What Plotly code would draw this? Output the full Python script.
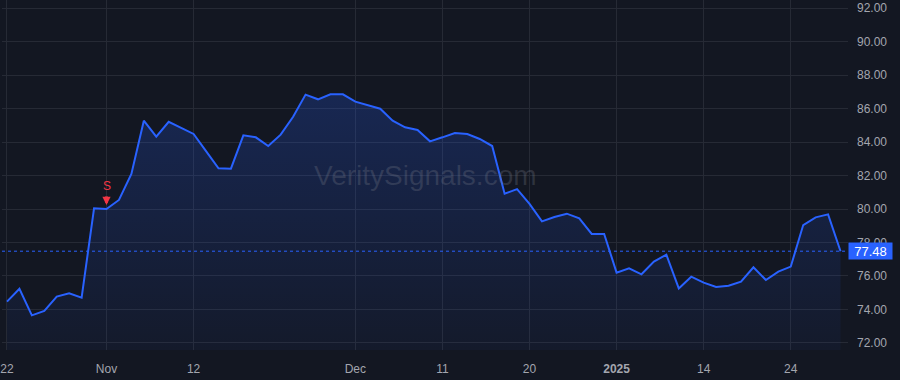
import plotly.graph_objects as go

dates = [
    "2024-10-22", "2024-10-23", "2024-10-24", "2024-10-25", "2024-10-28", "2024-10-29", "2024-10-30", "2024-10-31",
    "2024-11-01", "2024-11-04", "2024-11-05", "2024-11-06", "2024-11-07", "2024-11-08", "2024-11-11", "2024-11-12",
    "2024-11-13", "2024-11-14", "2024-11-15", "2024-11-18", "2024-11-19", "2024-11-20", "2024-11-21", "2024-11-22",
    "2024-11-25", "2024-11-26", "2024-11-27", "2024-11-29",
    "2024-12-02", "2024-12-03", "2024-12-04", "2024-12-05", "2024-12-06", "2024-12-09", "2024-12-10", "2024-12-11",
    "2024-12-12", "2024-12-13", "2024-12-16", "2024-12-17", "2024-12-18", "2024-12-19", "2024-12-20", "2024-12-23",
    "2024-12-24", "2024-12-26", "2024-12-27", "2024-12-30", "2024-12-31",
    "2025-01-02", "2025-01-03", "2025-01-06", "2025-01-07", "2025-01-08", "2025-01-10", "2025-01-13", "2025-01-14",
    "2025-01-15", "2025-01-16", "2025-01-17", "2025-01-21", "2025-01-22", "2025-01-23", "2025-01-24", "2025-01-27",
    "2025-01-28", "2025-01-29", "2025-01-30",
]

prices = [
    74.47, 75.24, 73.65, 73.91, 74.77, 74.97, 74.71, 80.04,
    80.00, 80.54, 82.09, 85.27, 84.32, 85.21, 84.84, 84.48,
    83.46, 82.43, 82.41, 84.40, 84.28, 83.76, 84.44, 85.51,
    86.83, 86.55, 86.85, 86.85,
    86.41, 86.21, 85.99, 85.27, 84.88, 84.72, 84.04, 84.28,
    84.54, 84.48, 84.18, 83.76, 80.91, 81.19, 80.30, 79.26,
    79.52, 79.72, 79.44, 78.51, 78.51,
    76.20, 76.46, 76.10, 76.86, 77.27, 75.26, 75.96, 75.60,
    75.34, 75.42, 75.66, 76.52, 75.76, 76.26, 76.56, 79.04,
    79.50, 79.68, 77.48,
]

tick_dates = ["2024-10-22", "2024-11-01", "2024-11-12", "2024-12-02", "2024-12-11",
              "2024-12-20", "2025-01-02", "2025-01-14", "2025-01-24"]
tick_labels = ["22", "Nov", "12", "Dec", "11", "20", "<b>2025</b>", "14", "24"]

y_ticks = [72, 74, 76, 78, 80, 82, 84, 86, 88, 90, 92]
y_tick_labels = [f"{v:.2f}" for v in y_ticks]

signal_date = "2024-11-01"
signal_label = "S"

BG = "#131722"
GRID = "#262a35"
TXT = "#a3a6af"
BLUE = "#2962FF"
RED = "#F23645"
FONT = "Liberation Sans, Arial, sans-serif"

fig = go.Figure()
fig.add_trace(go.Scatter(
    x=dates, y=prices, mode="lines",
    line=dict(color=BLUE, width=2),
    fill="tozeroy",
    fillgradient=dict(type="vertical", start=71.5, stop=87.0,
                      colorscale=[[0, "rgba(41,98,255,0.04)"], [1, "rgba(41,98,255,0.22)"]]),
    hoverinfo="skip", showlegend=False,
))

last = prices[-1]
fig.add_hline(y=last, line=dict(color=BLUE, width=1, dash="dot"))

fig.add_annotation(xref="paper", x=1.0, y=last, xanchor="left", yanchor="middle",
                   text=f"{last:.2f}", showarrow=False, bgcolor=BLUE,
                   font=dict(color="white", size=13, family=FONT),
                   width=41, height=14, borderpad=1, align="center")

si = dates.index(signal_date)
fig.add_annotation(x=signal_date, y=prices[si], text="", showarrow=True,
                   ax=0, ay=-10, arrowhead=2, arrowsize=0.55, arrowwidth=3,
                   arrowcolor=RED, yshift=4, standoff=0)
fig.add_annotation(x=signal_date, y=prices[si], text=signal_label, showarrow=False,
                   yshift=23, font=dict(color=RED, size=12, family=FONT))

fig.add_annotation(xref="x domain", yref="y domain", x=0.5, y=0.5,
                   text="VeritySignals.com", showarrow=False,
                   font=dict(color="rgba(120,124,138,0.28)", size=28, family=FONT))

fig.update_layout(
    width=900, height=380,
    margin=dict(l=0, r=52, t=0, b=30),
    paper_bgcolor=BG, plot_bgcolor=BG,
    font=dict(family=FONT, color=TXT, size=12),
    showlegend=False,
)
fig.update_xaxes(
    type="category", tickmode="array", tickvals=tick_dates, ticktext=tick_labels,
    range=[-0.4, len(dates) - 1 + 0.6],
    showgrid=True, gridcolor=GRID, gridwidth=1, zeroline=False, showline=False,
    ticks="", ticklabelstandoff=10, tickfont=dict(size=12, color=TXT),
)
fig.update_yaxes(
    side="right", range=[71.58, 92.48], tickmode="array", tickvals=y_ticks, ticktext=y_tick_labels,
    showgrid=True, gridcolor=GRID, gridwidth=1, zeroline=False, showline=False,
    ticks="", ticklabelstandoff=8, tickfont=dict(size=12, color=TXT),
)

fig.write_html("out.html")
